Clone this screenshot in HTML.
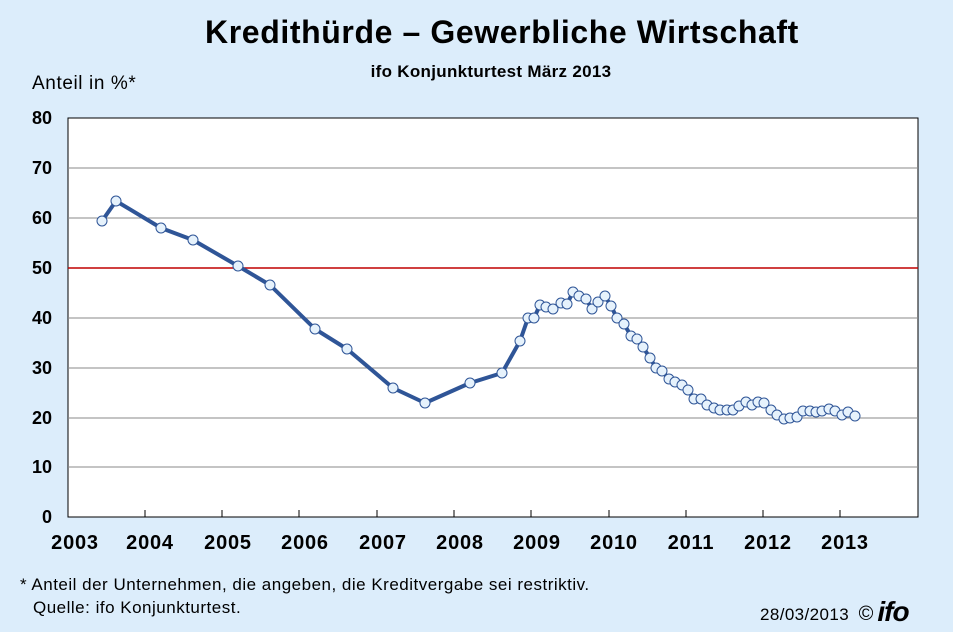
<!DOCTYPE html><html><head><meta charset="utf-8"><style>body{margin:0;background:#dcedfb}svg{display:block}</style></head><body>
<svg width="953" height="632" xmlns="http://www.w3.org/2000/svg" font-family="Liberation Sans, Arial, sans-serif">
<rect width="953" height="632" fill="#dcedfb"/>
<text x="502" y="43" font-size="32" font-weight="bold" text-anchor="middle" letter-spacing="0.6">Kredithürde – Gewerbliche Wirtschaft</text>
<text x="491" y="77" font-size="17" font-weight="bold" text-anchor="middle" letter-spacing="0.3">ifo Konjunkturtest März 2013</text>
<text x="32" y="89" font-size="19" letter-spacing="0.6">Anteil in %*</text>
<rect x="68" y="118" width="850" height="399" fill="#fff" stroke="#000" stroke-width="1"/>
<g stroke="#888" stroke-width="1">
<line x1="68" x2="918" y1="168" y2="168"/><line x1="68" x2="918" y1="218" y2="218"/>
<line x1="68" x2="918" y1="318" y2="318"/><line x1="68" x2="918" y1="368" y2="368"/>
<line x1="68" x2="918" y1="418" y2="418"/><line x1="68" x2="918" y1="467" y2="467"/>
</g>
<line x1="68" x2="918" y1="268" y2="268" stroke="#c00000" stroke-width="1.5"/>
<line x1="68" x2="918" y1="517" y2="517" stroke="#000"/>
<g stroke="#000"><line x1="145" x2="145" y1="510" y2="517"/><line x1="222" x2="222" y1="510" y2="517"/><line x1="299" x2="299" y1="510" y2="517"/><line x1="377" x2="377" y1="510" y2="517"/><line x1="454" x2="454" y1="510" y2="517"/><line x1="531" x2="531" y1="510" y2="517"/><line x1="609" x2="609" y1="510" y2="517"/><line x1="686" x2="686" y1="510" y2="517"/><line x1="763" x2="763" y1="510" y2="517"/><line x1="840" x2="840" y1="510" y2="517"/></g>
<g font-size="18" font-weight="bold" text-anchor="end">
<text x="52" y="124">80</text><text x="52" y="174">70</text><text x="52" y="224">60</text><text x="52" y="274">50</text><text x="52" y="324">40</text><text x="52" y="374">30</text><text x="52" y="424">20</text><text x="52" y="473">10</text><text x="52" y="523">0</text></g>
<g font-size="20" font-weight="bold" text-anchor="middle" letter-spacing="0.8">
<text x="75" y="549">2003</text><text x="150" y="549">2004</text><text x="228" y="549">2005</text><text x="305" y="549">2006</text><text x="383" y="549">2007</text><text x="460" y="549">2008</text><text x="537" y="549">2009</text><text x="614" y="549">2010</text><text x="691" y="549">2011</text><text x="768" y="549">2012</text><text x="845" y="549">2013</text></g>
<polyline fill="none" stroke="#2f5597" stroke-width="4" stroke-linejoin="round" points="102,221 116,201 161,228 193,240 238,266 270,285 315,329 347,349 393,388 425,403 470,383 502,373 520,341 528,318 534,318 540,305 546,307 553,309 561,303 567,304 573,292 579,296 586,299 592,309 598,302 605,296 611,306 617,318 624,324 631,336 637,339 643,347 650,358 656,368 662,371 669,379 675,382 682,385 688,390 694,399 701,399 707,405 714,408 720,410 727,410 733,410 739,406 746,402 752,405 758,402 764,403 771,410 777,415 784,419 790,418 797,417 803,411 810,411 816,412 822,411 829,409 835,411 842,415 848,412 855,416"/>
<g fill="#e6f2fc" stroke="#2f5597" stroke-width="1">
<circle cx="102" cy="221" r="5"/><circle cx="116" cy="201" r="5"/><circle cx="161" cy="228" r="5"/><circle cx="193" cy="240" r="5"/><circle cx="238" cy="266" r="5"/><circle cx="270" cy="285" r="5"/><circle cx="315" cy="329" r="5"/><circle cx="347" cy="349" r="5"/><circle cx="393" cy="388" r="5"/><circle cx="425" cy="403" r="5"/><circle cx="470" cy="383" r="5"/><circle cx="502" cy="373" r="5"/><circle cx="520" cy="341" r="5"/><circle cx="528" cy="318" r="5"/><circle cx="534" cy="318" r="5"/><circle cx="540" cy="305" r="5"/><circle cx="546" cy="307" r="5"/><circle cx="553" cy="309" r="5"/><circle cx="561" cy="303" r="5"/><circle cx="567" cy="304" r="5"/><circle cx="573" cy="292" r="5"/><circle cx="579" cy="296" r="5"/><circle cx="586" cy="299" r="5"/><circle cx="592" cy="309" r="5"/><circle cx="598" cy="302" r="5"/><circle cx="605" cy="296" r="5"/><circle cx="611" cy="306" r="5"/><circle cx="617" cy="318" r="5"/><circle cx="624" cy="324" r="5"/><circle cx="631" cy="336" r="5"/><circle cx="637" cy="339" r="5"/><circle cx="643" cy="347" r="5"/><circle cx="650" cy="358" r="5"/><circle cx="656" cy="368" r="5"/><circle cx="662" cy="371" r="5"/><circle cx="669" cy="379" r="5"/><circle cx="675" cy="382" r="5"/><circle cx="682" cy="385" r="5"/><circle cx="688" cy="390" r="5"/><circle cx="694" cy="399" r="5"/><circle cx="701" cy="399" r="5"/><circle cx="707" cy="405" r="5"/><circle cx="714" cy="408" r="5"/><circle cx="720" cy="410" r="5"/><circle cx="727" cy="410" r="5"/><circle cx="733" cy="410" r="5"/><circle cx="739" cy="406" r="5"/><circle cx="746" cy="402" r="5"/><circle cx="752" cy="405" r="5"/><circle cx="758" cy="402" r="5"/><circle cx="764" cy="403" r="5"/><circle cx="771" cy="410" r="5"/><circle cx="777" cy="415" r="5"/><circle cx="784" cy="419" r="5"/><circle cx="790" cy="418" r="5"/><circle cx="797" cy="417" r="5"/><circle cx="803" cy="411" r="5"/><circle cx="810" cy="411" r="5"/><circle cx="816" cy="412" r="5"/><circle cx="822" cy="411" r="5"/><circle cx="829" cy="409" r="5"/><circle cx="835" cy="411" r="5"/><circle cx="842" cy="415" r="5"/><circle cx="848" cy="412" r="5"/><circle cx="855" cy="416" r="5"/>
</g>
<text x="20" y="590" font-size="17" letter-spacing="0.5">* Anteil der Unternehmen, die angeben, die Kreditvergabe sei restriktiv.</text>
<text x="33" y="613" font-size="17" letter-spacing="0.5">Quelle: ifo Konjunkturtest.</text>
<text x="760" y="620" font-size="17" letter-spacing="0.4">28/03/2013</text>
<text x="866" y="620" font-size="20" text-anchor="middle">©</text>
<text x="893" y="621" font-size="28" font-weight="bold" font-style="italic" letter-spacing="-1" text-anchor="middle">ifo</text>
</svg></body></html>
